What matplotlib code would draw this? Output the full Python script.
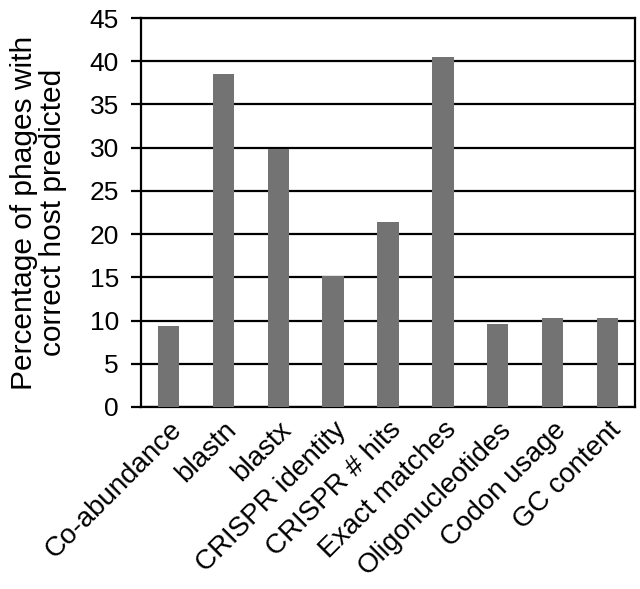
import matplotlib
matplotlib.use("Agg")
import matplotlib.pyplot as plt

categories = ["Co-abundance", "blastn", "blastx", "CRISPR identity", "CRISPR # hits",
              "Exact matches", "Oligonucleotides", "Codon usage", "GC content"]
values = [9.4, 38.5, 29.8, 15.1, 21.4, 40.5, 9.65, 10.3, 10.3]
yticks = [0, 5, 10, 15, 20, 25, 30, 35, 40, 45]

plt.rcParams['font.family'] = ['Liberation Sans', 'DejaVu Sans']

fig = plt.figure(figsize=(6.4, 5.89), dpi=100)
left, right, top, bottom = 141 / 640, 635 / 640, 1 - 18 / 589, 1 - 407 / 589
ax = fig.add_axes([left, bottom, right - left, top - bottom])

x = list(range(len(categories)))
ax.set_axisbelow(True)
ax.yaxis.grid(True, color='black', linewidth=1.6)
ax.bar(x, values, width=0.39, color='#737373', zorder=3)

ax.set_xlim(-0.5, len(categories) - 0.5)
ax.set_ylim(0, 45)
ax.set_yticks(yticks)
ax.set_yticklabels([str(t) for t in yticks], fontsize=19)
ax.set_xticks(x)
ax.set_xticklabels(categories, rotation=45, ha='right', rotation_mode='anchor', fontsize=20)
ax.tick_params(axis='x', length=0, pad=7)
ax.tick_params(axis='y', length=7, width=1.6, direction='out', pad=9)
for s in ax.spines.values():
    s.set_linewidth(1.6)
    s.set_color('black')
ax.set_ylabel("Percentage of phages with\ncorrect host predicted", fontsize=21.5,
              labelpad=16, linespacing=1.05)

fig.savefig("out.png", dpi=100)
